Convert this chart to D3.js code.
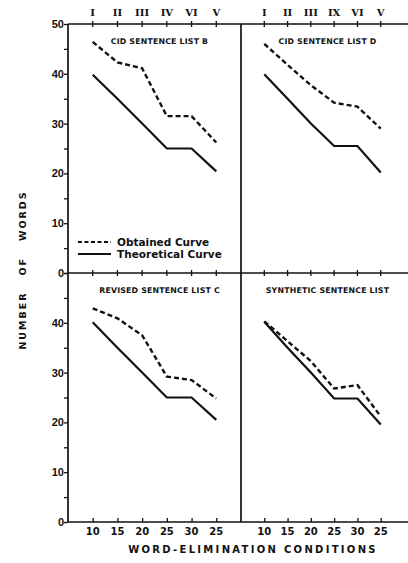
<!DOCTYPE html>
<html lang="en">
<head>
<meta charset="UTF-8" />
<title>Word elimination curves</title>
<script src="https://cdn.jsdelivr.net/npm/d3@7"></script>
<style>
  body { margin: 0; background: #fff; }
  svg text { fill: #111; }
</style>
</head>
<body>
<div id="chart"></div>
<script>
// tick labels along the bottom (last one really is printed "25")
const conditionLabels = ['10', '15', '20', '25', '30', '25'];
const romanLeft  = ['I', 'II', 'III', 'IV', 'VI', 'V'];
const romanRight = ['I', 'II', 'III', 'IX', 'VI', 'V'];

const panelTitles = ['CID SENTENCE LIST B', 'CID SENTENCE LIST D',
                     'REVISED SENTENCE LIST C', 'SYNTHETIC SENTENCE LIST'];

// obtained (dashed) curves
const obtainedB   = [46.4, 42.3, 41.1, 31.5, 31.5, 26.2];
const obtainedD   = [46.0, 41.8, 37.7, 34.2, 33.4, 29.0];
const obtainedC   = [42.9, 40.9, 37.5, 29.2, 28.5, 24.8];
const obtainedSyn = [40.3, 36.3, 32.3, 26.8, 27.5, 21.2];

// theoretical (solid) curves
const theoryB   = [39.8, 35, 30, 25, 25, 20.4];
const theoryD   = [39.9, 35, 30, 25.5, 25.5, 20.2];
const theoryC   = [40.1, 35, 30, 25, 25, 20.5];
const theorySyn = [40.2, 35, 30, 24.8, 24.8, 19.6];

const W = 408, H = 563;
const leftX = 68, midX = 241, rightX = 408;
const topY = 24, midY = 273, bottomY = 522;

const svg = d3.select('#chart').append('svg')
  .attr('width', W).attr('height', H)
  .style('font-family', '"DejaVu Sans", sans-serif');

const idx = d3.range(6);
const xLeft  = d3.scalePoint().domain(idx).range([leftX, midX]).padding(1);
const xRight = d3.scalePoint().domain(idx).range([midX, rightX - 4]).padding(1);
const yTop = d3.scaleLinear().domain([0, 50]).range([midY, topY]);
const yBot = d3.scaleLinear().domain([0, 50]).range([bottomY, midY]);

const panels = [
  { x: xLeft,  y: yTop, title: panelTitles[0], obt: obtainedB,   th: theoryB },
  { x: xRight, y: yTop, title: panelTitles[1], obt: obtainedD,   th: theoryD },
  { x: xLeft,  y: yBot, title: panelTitles[2], obt: obtainedC,   th: theoryC },
  { x: xRight, y: yBot, title: panelTitles[3], obt: obtainedSyn, th: theorySyn }
];

// frame lines
const frame = svg.append('g').attr('stroke', '#111').attr('stroke-width', 1.7);
frame.append('line').attr('x1', leftX).attr('x2', rightX).attr('y1', topY).attr('y2', topY);
frame.append('line').attr('x1', leftX).attr('x2', rightX).attr('y1', midY).attr('y2', midY);
frame.append('line').attr('x1', leftX).attr('x2', rightX).attr('y1', bottomY).attr('y2', bottomY);
frame.append('line').attr('x1', leftX).attr('x2', leftX).attr('y1', topY).attr('y2', bottomY);
frame.append('line').attr('x1', midX).attr('x2', midX).attr('y1', topY).attr('y2', bottomY);

// left axes
function yAxis(scale, skipTop) {
  return d3.axisLeft(scale).tickValues(d3.range(0, 51, 5)).tickSize(4)
    .tickFormat(d => (d % 10 === 0 && !(skipTop && d === 50)) ? d : '');
}
[[yTop, false], [yBot, true]].forEach(([s, skip]) => {
  const g = svg.append('g').attr('transform', `translate(${leftX},0)`).call(yAxis(s, skip));
  g.select('.domain').remove();
  g.selectAll('line').attr('stroke', '#111').attr('stroke-width', 1.3);
  g.selectAll('text').attr('font-size', 11).attr('font-weight', 'bold').attr('x', -4);
});

// x ticks crossing the horizontal lines
[xLeft, xRight].forEach(xs => {
  [topY, midY].forEach(yy => {
    svg.append('g').selectAll('line').data(idx).join('line')
      .attr('x1', d => xs(d)).attr('x2', d => xs(d))
      .attr('y1', yy - 3).attr('y2', yy + 3)
      .attr('stroke', '#111').attr('stroke-width', 1.3);
  });
  const g = svg.append('g').attr('transform', `translate(0,${bottomY})`)
    .call(d3.axisTop(xs).tickSize(4).tickFormat(() => ''));
  g.select('.domain').remove();
  g.selectAll('line').attr('stroke', '#111').attr('stroke-width', 1.3);
  svg.append('g').selectAll('text').data(idx).join('text')
    .attr('x', d => xs(d)).attr('y', bottomY + 13)
    .attr('text-anchor', 'middle').attr('font-size', 10).attr('font-weight', 'bold')
    .text(d => conditionLabels[d]);
});

// roman numerals on top
[[xLeft, romanLeft], [xRight, romanRight]].forEach(([xs, labels]) => {
  svg.append('g').selectAll('text').data(idx).join('text')
    .attr('x', d => xs(d)).attr('y', topY - 8)
    .attr('text-anchor', 'middle').attr('font-size', 10).attr('font-weight', 'bold')
    .style('font-family', '"DejaVu Serif", serif')
    .text(d => labels[d]);
});

// curves
panels.forEach(p => {
  const line = d3.line().x((d, i) => p.x(i)).y(d => p.y(d));
  svg.append('path').datum(p.th).attr('d', line)
    .attr('fill', 'none').attr('stroke', '#111').attr('stroke-width', 2.2);
  svg.append('path').datum(p.obt).attr('d', line)
    .attr('fill', 'none').attr('stroke', '#111').attr('stroke-width', 2.4)
    .attr('stroke-dasharray', '5,3');
  const [x0, x1] = p.x.range();
  svg.append('text')
    .attr('x', (x0 + x1) / 2 + 5).attr('y', p.y(50) + 20)
    .attr('text-anchor', 'middle').attr('font-size', 7.8).attr('font-weight', 'bold')
    .attr('letter-spacing', 0.2)
    .text(p.title);
});

// legend
const lg = svg.append('g').attr('font-size', 10.5).attr('font-weight', 'bold');
lg.append('line').attr('x1', 78).attr('x2', 111).attr('y1', 242).attr('y2', 242)
  .attr('stroke', '#111').attr('stroke-width', 1.8).attr('stroke-dasharray', '4,2.5');
lg.append('text').attr('x', 117).attr('y', 246).text('Obtained Curve');
lg.append('line').attr('x1', 78).attr('x2', 111).attr('y1', 254).attr('y2', 254)
  .attr('stroke', '#111').attr('stroke-width', 2);
lg.append('text').attr('x', 117).attr('y', 258).text('Theoretical Curve');

// axis titles
svg.append('text')
  .attr('transform', `translate(26,${270}) rotate(-90)`)
  .attr('text-anchor', 'middle').attr('font-size', 9.5).attr('font-weight', 'bold')
  .attr('letter-spacing', 2)
  .attr('xml:space', 'preserve')
  .text('NUMBER   OF   WORDS');
svg.append('text')
  .attr('x', 253).attr('y', 553)
  .attr('text-anchor', 'middle').attr('font-size', 10).attr('font-weight', 'bold')
  .attr('letter-spacing', 2.3)
  .text('WORD-ELIMINATION CONDITIONS');
</script>
</body>
</html>
